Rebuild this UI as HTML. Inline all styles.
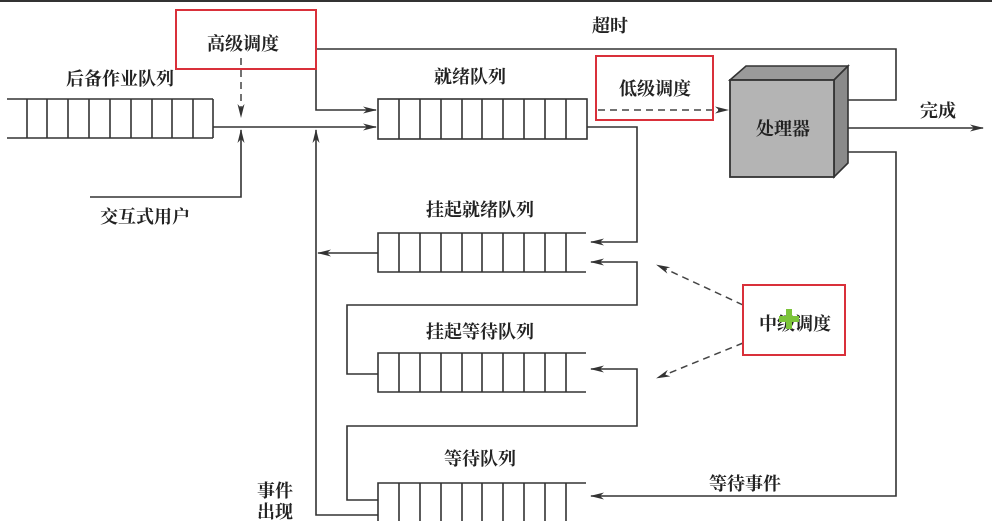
<!DOCTYPE html>
<html><head><meta charset="utf-8"><style>
html,body{margin:0;padding:0;background:#fff;}
svg text{font-family:"Liberation Serif","Noto Serif CJK SC","Noto Sans CJK SC",serif;font-weight:bold;fill:#222;}
</style></head><body>
<svg width="992" height="521" viewBox="0 0 992 521" xmlns="http://www.w3.org/2000/svg">
<defs>
<marker id="a" markerWidth="14" markerHeight="8" refX="13" refY="4" orient="auto" markerUnits="userSpaceOnUse">
<path d="M0,0.5 L14,4 L0,7.5 L4,4 Z" fill="#333"/></marker>
</defs>
<rect x="0" y="0" width="992" height="2" fill="#333"/>
<g stroke="#333" stroke-width="1.6" fill="none">
<!-- backup queue -->
<line x1="7" y1="99" x2="213" y2="99"/><line x1="7" y1="138" x2="213" y2="138"/>
<line x1="213" y1="99" x2="213" y2="138"/>
<path d="M27 99V138M47 99V138M68 99V138M89 99V138M110 99V138M131 99V138M152 99V138M172 99V138M193 99V138"/>
<!-- ready queue -->
<rect x="378" y="99" width="209" height="40"/>
<path d="M399 99V139M420 99V139M441 99V139M462 99V139M482 99V139M503 99V139M524 99V139M545 99V139M566 99V139"/>
<!-- susp ready -->
<path d="M586 233H378V272H586"/>
<path d="M399 233V272M420 233V272M441 233V272M462 233V272M482 233V272M503 233V272M524 233V272M545 233V272M566 233V272"/>
<!-- susp wait -->
<path d="M586 353H378V392H586"/>
<path d="M399 353V392M420 353V392M441 353V392M462 353V392M482 353V392M503 353V392M524 353V392M545 353V392M566 353V392"/>
<!-- wait -->
<path d="M586 483H378V530"/>
<path d="M399 483V521M420 483V521M441 483V521M462 483V521M482 483V521M503 483V521M524 483V521M545 483V521M566 483V521"/>
<!-- connectors -->
<line x1="213" y1="127" x2="376" y2="127" marker-end="url(#a)"/>
<path d="M316 69V110H376" marker-end="url(#a)"/>
<path d="M316 49H896V100H842"/>
<path d="M90 197H241V130" marker-end="url(#a)"/>
<path d="M378 515H316V130" marker-end="url(#a)"/>
<line x1="378" y1="253" x2="318" y2="253" marker-end="url(#a)"/>
<path d="M587 127H637V242H591" marker-end="url(#a)"/>
<path d="M378 374H347V305H637V262H591" marker-end="url(#a)"/>
<path d="M378 500H347V426H637V369H591" marker-end="url(#a)"/>
<line x1="842" y1="128" x2="983" y2="128" marker-end="url(#a)"/>
<path d="M842 152H896V496H591" marker-end="url(#a)"/>
</g>
<g stroke="#444" stroke-width="1.5" fill="none" stroke-dasharray="7,5">
<line x1="241" y1="58" x2="241" y2="117" marker-end="url(#a)"/>
<line x1="598" y1="110" x2="728" y2="110" marker-end="url(#a)"/>
<line x1="743" y1="305" x2="657" y2="265" marker-end="url(#a)"/>
<line x1="743" y1="343" x2="657" y2="378" marker-end="url(#a)"/>
</g>
<!-- cube -->
<polygon points="730,80 746,66 848,66 834,80" fill="#9a9a9a" stroke="#333" stroke-width="1.6"/>
<polygon points="834,80 848,66 848,163 834,177" fill="#8a8a8a" stroke="#333" stroke-width="1.6"/>
<rect x="730" y="80" width="104" height="97" fill="#b4b4b4" stroke="#333" stroke-width="1.8"/>
<!-- red boxes -->
<g fill="none" stroke="#d9303a" stroke-width="2">
<rect x="176" y="10" width="140" height="59"/>
<rect x="596" y="56" width="117" height="64"/>
<rect x="743" y="285" width="102" height="70"/>
</g>
<g font-size="18" text-anchor="middle">
<text x="243" y="50">高级调度</text>
<text x="655" y="95">低级调度</text>
<text x="795" y="330" font-weight="normal">中级调度</text>
<text x="120" y="85">后备作业队列</text>
<text x="470" y="83">就绪队列</text>
<text x="610" y="32">超时</text>
<text x="938" y="117">完成</text>
<text x="783" y="135">处理器</text>
<text x="145" y="223">交互式用户</text>
<text x="480" y="216">挂起就绪队列</text>
<text x="480" y="338">挂起等待队列</text>
<text x="480" y="465">等待队列</text>
<text x="745" y="490">等待事件</text>
<text x="275" y="497">事件</text>
<text x="275" y="518">出现</text>
</g>
<g fill="#7cc43a"><rect x="786" y="309" width="6" height="20"/><rect x="779" y="316" width="20" height="6"/></g>
</svg>
</body></html>
